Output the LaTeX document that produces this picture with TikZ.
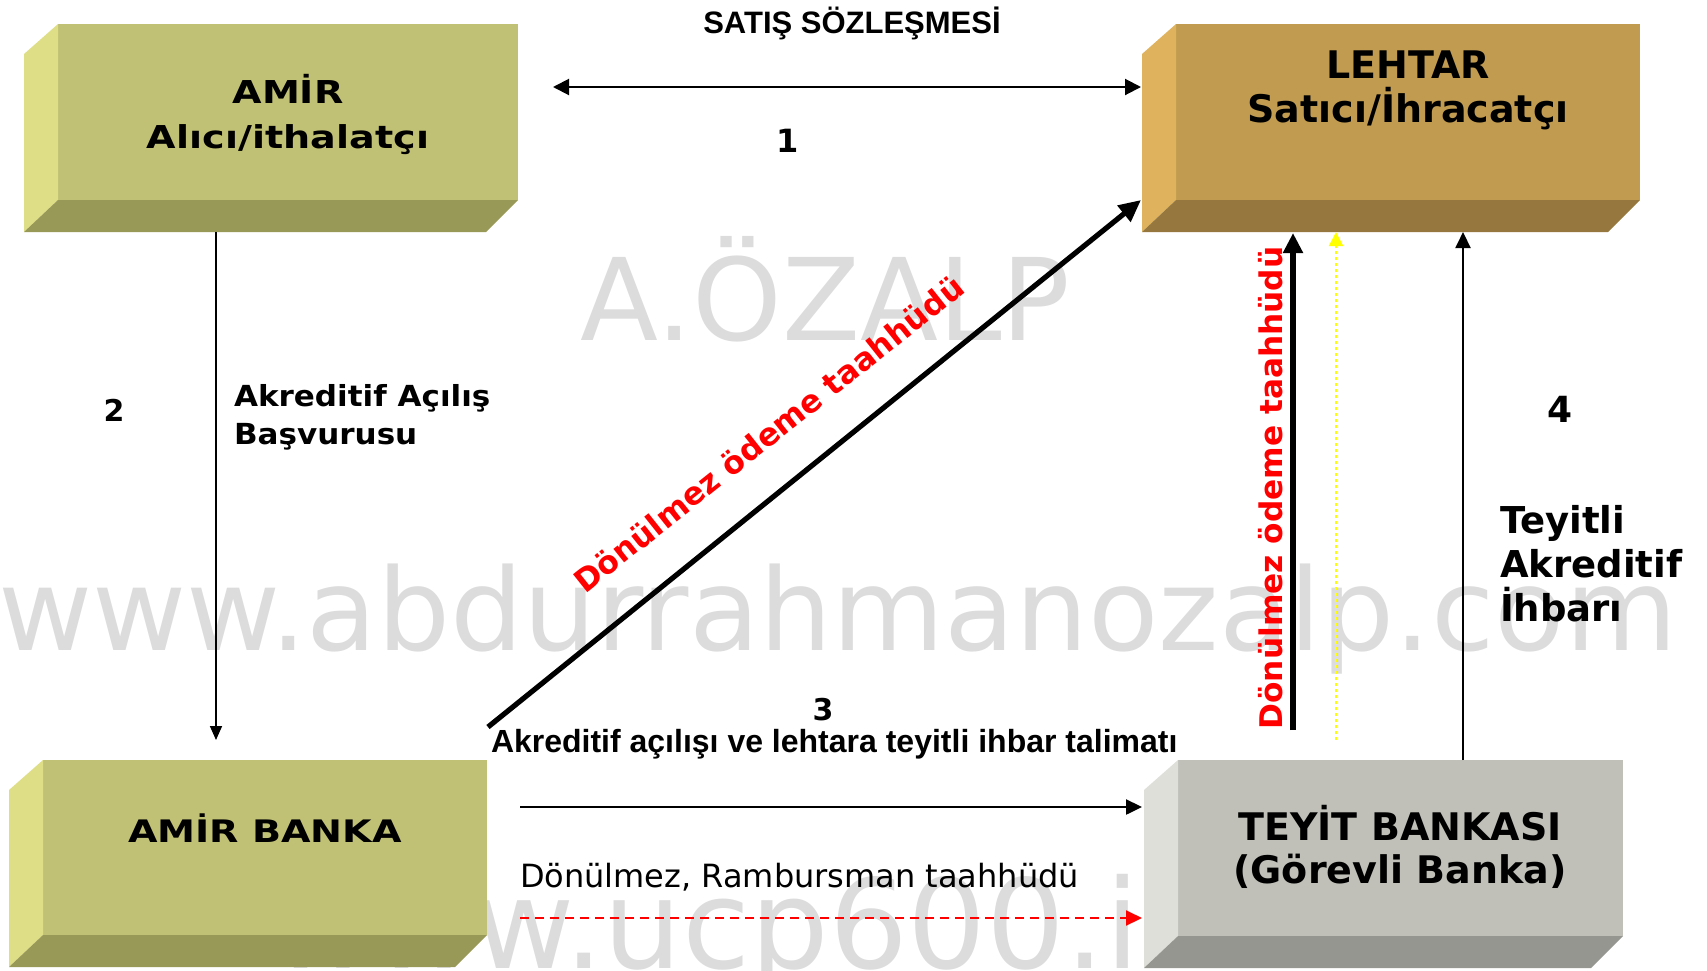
\documentclass[tikz,border=0pt]{standalone}
\usepackage{graphicx}
\usepackage{fontspec}
\setmainfont{DejaVu Sans}
\newfontfamily\arialf{Liberation Sans}
\usetikzlibrary{arrows.meta,calc}
\definecolor{wm}{RGB}{220,220,220}
\definecolor{olF}{RGB}{193,193,117}
\definecolor{olL}{RGB}{222,222,134}
\definecolor{olB}{RGB}{153,153,87}
\definecolor{tnF}{RGB}{193,155,80}
\definecolor{tnL}{RGB}{223,179,93}
\definecolor{tnB}{RGB}{150,120,62}
\definecolor{gyF}{RGB}{192,192,185}
\definecolor{gyL}{RGB}{223,223,217}
\definecolor{gyB}{RGB}{150,150,144}
\definecolor{pureRed}{RGB}{255,0,0}
\definecolor{pureYellow}{RGB}{255,255,0}

\newcommand{\bevbox}[7]{%
  \node[front, fill=#5, minimum width=#3, minimum height=#4] (#1) at #2 {};
  \fill[#6] ($(#1.north west)+(-34,30)$) -- (#1.north west) -- (#1.south west) -- ($(#1.south west)+(-34,32)$) -- cycle;
  \fill[#7] ($(#1.south west)+(-34,32)$) -- (#1.south west) -- (#1.south east) -- ($(#1.south east)+(-32,32)$) -- cycle;
}

\tikzset{
  front/.style={inner sep=0pt, outer sep=0pt, draw=none},
  txt/.style={inner sep=0pt, outer sep=0pt, anchor=base},
  wmtxt/.style={inner sep=0pt, outer sep=0pt, anchor=base west, text=wm},
  boxA/.style={font=\fontsize{15.75pt}{18pt}\selectfont\bfseries},
  boxB/.style={font=\fontsize{19pt}{22pt}\selectfont\bfseries},
  numf/.style={font=\fontsize{15pt}{18pt}\selectfont\bfseries},
  thinarrow/.style={line width=1pt, -{Triangle[length=8pt,width=7.5pt]}},
  thickarrow/.style={line width=2.6pt, -{Triangle[length=11pt,width=10pt]}},
}

\begin{document}
\begin{tikzpicture}[x=0.5pt,y=-0.5pt]
\useasboundingbox (0,0) rectangle (1707,970);

% watermarks
\node[wmtxt, font=\fontsize{57pt}{60pt}\selectfont] (wmA) at (580,340) {A.ÖZALP};
\node[wmtxt, font=\fontsize{57pt}{60pt}\selectfont] (wmB) at (-2,650) {\scalebox{1.01}[1]{www.abdurrahmanozalp.com}};
\node[wmtxt, font=\fontsize{62pt}{64pt}\selectfont] (wmC) at (271,968) {www.ucp600.i};

% boxes
\bevbox{amir}{(288,112)}{230pt}{88pt}{olF}{olL}{olB}
\bevbox{lehtar}{(1408,112)}{232pt}{88pt}{tnF}{tnL}{tnB}
\bevbox{amirbanka}{(265,847.5)}{222pt}{87.5pt}{olF}{olL}{olB}
\bevbox{teyit}{(1400.5,848)}{222.5pt}{88pt}{gyF}{gyL}{gyB}

% box texts
\node[txt, boxA] (amirT1) at (288,103) {\scalebox{1.21}[1]{AMİR}};
\node[txt, boxA] (amirT2) at (288,148) {\scalebox{1.21}[1]{Alıcı/ithalatçı}};
\node[txt, boxB] (lehT1) at (1408,78) {LEHTAR};
\node[txt, boxB] (lehT2) at (1408,122) {Satıcı/İhracatçı};
\node[txt, font=\fontsize{15.5pt}{18pt}\selectfont\bfseries] (abT) at (265,842) {\scalebox{1.23}[1]{AMİR BANKA}};
\node[txt, boxB] (tyT1) at (1400,840) {TEYİT BANKASI};
\node[txt, boxB] (tyT2) at (1400,883) {(Görevli Banka)};

% connector end points
\coordinate (a1l) at (553,87);
\coordinate (a1r) at (1141,87);
\coordinate (a2s) at (216,232);
\coordinate (a2e) at (216,740);
\coordinate (dgs) at (488,727);
\coordinate (dge) at (1141,200);
\coordinate (vks) at (1293,730);
\coordinate (vke) at (1293,233);
\coordinate (vys) at (1336,740);
\coordinate (vye) at (1336,232);
\coordinate (a4s) at (1463,760);
\coordinate (a4e) at (1463,232);
\coordinate (a3s) at (520,807);
\coordinate (a3e) at (1142,807);
\coordinate (ars) at (520,918);
\coordinate (are) at (1142,918);

% connectors
\draw[line width=1pt, {Triangle[length=8pt,width=8pt]}-{Triangle[length=8pt,width=8pt]}] (a1l) -- (a1r);
\draw[line width=0.8pt, -{Triangle[length=7pt,width=6pt]}] (a2s) -- (a2e);
\draw[thickarrow] (dgs) -- (dge);
\draw[line width=3pt, -{Triangle[length=10pt,width=9.5pt]}] (vks) -- (vke);
\draw[pureYellow, line width=1pt, dash pattern=on 1.5pt off 1.5pt, -{Triangle[length=7pt,width=7pt]}] (vys) -- (vye);
\draw[thinarrow] (a4s) -- (a4e);
\draw[line width=1.2pt, -{Triangle[length=8pt,width=7.5pt]}] (a3s) -- (a3e);
\draw[pureRed, line width=1pt, dash pattern=on 4.5pt off 3pt, -{Triangle[length=8pt,width=7.5pt]}] (ars) -- (are);

% labels
\node[txt, font=\arialf\fontsize{15.5pt}{18pt}\selectfont\bfseries] (satis) at (852,33) {SATIŞ SÖZLEŞMESİ};
\node[txt, font=\fontsize{16pt}{18pt}\selectfont\bfseries] (n1) at (788,152) {1};
\node[txt, numf] (n2) at (114,421) {2};
\node[txt, font=\fontsize{14.5pt}{17pt}\selectfont\bfseries, anchor=base west] (akr1) at (234,406) {\scalebox{1.07}[1]{Akreditif Açılış}};
\node[txt, font=\fontsize{14.5pt}{17pt}\selectfont\bfseries, anchor=base west] (akr2) at (234,444) {\scalebox{1.07}[1]{Başvurusu}};
\node[txt, numf] (n3) at (823,720) {3};
\node[txt, font=\fontsize{18pt}{20pt}\selectfont\bfseries] (n4) at (1560,422) {4};
\node[txt, font=\fontsize{18.5pt}{21pt}\selectfont\bfseries, anchor=base west] (tey1) at (1500,533) {Teyitli};
\node[txt, font=\fontsize{18.5pt}{21pt}\selectfont\bfseries, anchor=base west] (tey2) at (1500,577) {Akreditif};
\node[txt, font=\fontsize{18.5pt}{21pt}\selectfont\bfseries, anchor=base west] (tey3) at (1500,621) {İhbarı};
\node[txt, font=\arialf\fontsize{16pt}{18pt}\selectfont\bfseries, anchor=base west] (talimat) at (491,752) {Akreditif açılışı ve lehtara teyitli ihbar talimatı};
\node[txt, font=\fontsize{16pt}{18pt}\selectfont, anchor=base west] (ramb) at (520,887) {Dönülmez, Rambursman taahhüdü};
\node[txt, text=pureRed, font=\fontsize{15.75pt}{18pt}\selectfont\bfseries, rotate=38.5] (redD) at (776,443) {Dönülmez ödeme taahhüdü};
\node[txt, text=pureRed, font=\fontsize{15.6pt}{18pt}\selectfont\bfseries, rotate=90] (redV) at (1282,488) {Dönülmez ödeme taahhüdü};
\end{tikzpicture}
\end{document}
